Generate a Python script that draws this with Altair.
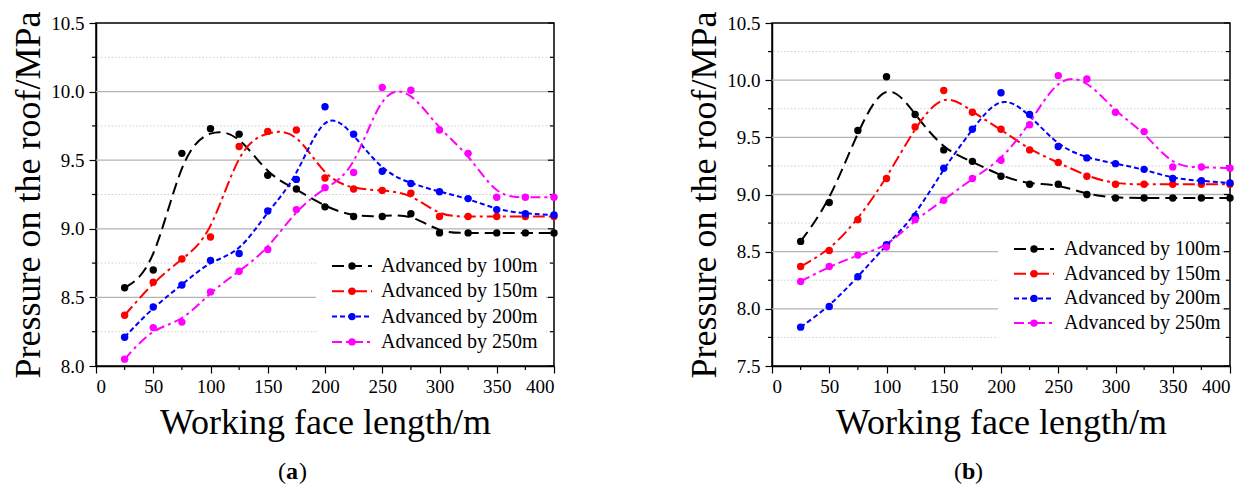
import altair as alt
import pandas as pd

FONT = "Liberation Serif"
W, H = 458, 343

# ---------------- data ----------------
face_length = [25, 50, 75, 100, 125, 150, 175, 200, 225, 250, 275, 300, 325, 350, 375, 400]
series_names = ["Advanced by 100m", "Advanced by 150m", "Advanced by 200m", "Advanced by 250m"]
series_colors = ["#000000", "#ff0000", "#0000ff", "#ff00ff"]
series_dashes = [[12, 6], [12, 4, 3, 4], [5, 3], [10, 4, 3, 4]]

a_100 = [8.57, 8.70, 9.55, 9.73, 9.69, 9.39, 9.29, 9.16, 9.09, 9.09, 9.11, 8.97, 8.97, 8.97, 8.97, 8.97]
a_150 = [8.37, 8.61, 8.78, 8.94, 9.60, 9.71, 9.72, 9.37, 9.29, 9.28, 9.26, 9.09, 9.09, 9.09, 9.09, 9.09]
a_200 = [8.21, 8.43, 8.59, 8.77, 8.82, 9.13, 9.36, 9.89, 9.69, 9.42, 9.33, 9.27, 9.22, 9.14, 9.11, 9.10]
a_250 = [8.05, 8.28, 8.32, 8.54, 8.69, 8.85, 9.14, 9.30, 9.41, 10.03, 10.01, 9.72, 9.55, 9.23, 9.23, 9.23]

b_100 = [8.59, 8.93, 9.56, 10.03, 9.70, 9.39, 9.29, 9.16, 9.09, 9.09, 9.00, 8.97, 8.97, 8.97, 8.97, 8.97]
b_150 = [8.37, 8.51, 8.78, 9.14, 9.59, 9.91, 9.72, 9.57, 9.39, 9.28, 9.16, 9.09, 9.09, 9.09, 9.09, 9.09]
b_200 = [7.84, 8.02, 8.28, 8.56, 8.81, 9.23, 9.57, 9.89, 9.70, 9.42, 9.32, 9.27, 9.22, 9.14, 9.12, 9.10]
b_250 = [8.24, 8.37, 8.47, 8.54, 8.78, 8.95, 9.14, 9.30, 9.61, 10.04, 10.01, 9.72, 9.55, 9.24, 9.24, 9.23]

x_ticks = [0, 50, 100, 150, 200, 250, 300, 350, 400]
x_minor = [25, 75, 125, 175, 225, 275, 325, 375]

a_y_ticks = [8.0, 8.5, 9.0, 9.5, 10.0, 10.5]
a_y_minor = [8.25, 8.75, 9.25, 9.75, 10.25]
a_grid_major = [8.5, 9.0, 9.5, 10.0]

b_y_ticks = [7.5, 8.0, 8.5, 9.0, 9.5, 10.0, 10.5]
b_y_minor = [7.75, 8.25, 8.75, 9.25, 9.75, 10.25]
b_grid_major = [8.0, 8.5, 9.0, 9.5, 10.0]


def long_df(vals):
    rows = []
    for name, ys in zip(series_names, vals):
        for xv, yv in zip(face_length, ys):
            rows.append({"x": xv, "value": yv, "series": name})
    return pd.DataFrame(rows)


color_scale = alt.Scale(domain=series_names, range=series_colors)
dash_scale = alt.Scale(domain=series_names, range=series_dashes)


def make_panel(vals, ydom, yticks, yminor, gmajor, leg_y0, leg_step, leg_top, leg_sym, leg_txt, letter):
    df = long_df(vals)
    xs = alt.Scale(domain=[0, 400], nice=False, zero=False)
    ys = alt.Scale(domain=ydom, nice=False, zero=False)
    xaxis = alt.Axis(values=x_ticks, format="d", title="Working face length/m", grid=False,
                     tickSize=7, labelPadding=4, titlePadding=9,
                     labelFont=FONT, labelFontSize=19, titleFont=FONT, titleFontSize=36)
    yaxis = alt.Axis(values=yticks, format=".1f", title="Pressure on the roof/MPa", grid=False,
                     tickSize=7, labelPadding=5, titlePadding=3,
                     labelFont=FONT, labelFontSize=19, titleFont=FONT, titleFontSize=36)

    lines = alt.Chart(df).mark_line(interpolate="basis", strokeWidth=2).encode(
        x=alt.X("x:Q", scale=xs, axis=xaxis),
        y=alt.Y("value:Q", scale=ys, axis=yaxis),
        color=alt.Color("series:N", scale=color_scale, legend=None),
        strokeDash=alt.StrokeDash("series:N", scale=dash_scale, legend=None),
    )
    points = alt.Chart(df).mark_circle(size=55, opacity=1).encode(
        x=alt.X("x:Q", scale=xs, axis=xaxis),
        y=alt.Y("value:Q", scale=ys, axis=yaxis),
        color=alt.Color("series:N", scale=color_scale, legend=None),
    )

    grid_major = alt.Chart(pd.DataFrame({"value": gmajor})).mark_rule(
        color="#b3b3b3", strokeWidth=1.3).encode(y=alt.Y("value:Q", scale=ys, axis=yaxis))
    grid_minor = alt.Chart(pd.DataFrame({"value": yminor})).mark_rule(
        color="#cfcfcf", strokeWidth=1, strokeDash=[1.5, 2]).encode(y=alt.Y("value:Q", scale=ys, axis=yaxis))
    rt_major = alt.Chart(pd.DataFrame({"value": yticks})).mark_rule(color="black", strokeWidth=1.2).encode(
        y=alt.Y("value:Q", scale=ys, axis=yaxis), x=alt.value(W - 6), x2=alt.value(W))
    rt_minor = alt.Chart(pd.DataFrame({"value": yminor})).mark_rule(color="black", strokeWidth=1.2).encode(
        y=alt.Y("value:Q", scale=ys, axis=yaxis), x=alt.value(W - 4), x2=alt.value(W))
    lt_minor = alt.Chart(pd.DataFrame({"value": yminor})).mark_rule(color="black", strokeWidth=1.2).encode(
        y=alt.Y("value:Q", scale=ys, axis=yaxis), x=alt.value(-4), x2=alt.value(0))
    bt_minor = alt.Chart(pd.DataFrame({"x": x_minor})).mark_rule(color="black", strokeWidth=1.2).encode(
        x=alt.X("x:Q", scale=xs, axis=xaxis), y=alt.value(H), y2=alt.value(H + 4))

    layers = [grid_major, grid_minor, rt_major, rt_minor, lt_minor, bt_minor, lines, points]

    # legend drawn by hand
    ldf = pd.DataFrame({"series": series_names})
    layers.append(alt.Chart(pd.DataFrame({"k": [0]})).mark_rect(color="white").encode(
        x=alt.value(leg_sym - 36), x2=alt.value(W - 8), y=alt.value(leg_top), y2=alt.value(H - 1)))
    for i, name in enumerate(series_names):
        yy = leg_y0 + i * leg_step
        sub = alt.Chart(ldf).transform_filter(alt.datum.series == name)
        layers.append(sub.mark_rule(strokeWidth=2).encode(
            x=alt.value(leg_sym - 20), x2=alt.value(leg_sym + 20), y=alt.value(yy),
            color=alt.Color("series:N", scale=color_scale, legend=None),
            strokeDash=alt.StrokeDash("series:N", scale=dash_scale, legend=None)))
        layers.append(sub.mark_circle(size=55, opacity=1).encode(
            x=alt.value(leg_sym), y=alt.value(yy),
            color=alt.Color("series:N", scale=color_scale, legend=None)))
        layers.append(sub.mark_text(align="left", baseline="middle", font=FONT, fontSize=20,
                                    color="black").encode(x=alt.value(leg_txt), y=alt.value(yy),
                                                          text="series:N"))

    cap_parts = ["(", letter, ")"]
    cap_x = [182, 190, 203]
    cap_w = ["normal", "bold", "normal"]
    for part, cx, cw in zip(cap_parts, cap_x, cap_w):
        layers.append(alt.Chart(pd.DataFrame({"t": [part]})).mark_text(
            align="left", baseline="middle", font=FONT, fontSize=24, fontWeight=cw, color="black").encode(
            x=alt.value(cx), y=alt.value(449), text="t:N"))

    return alt.layer(*layers).properties(width=W, height=H)


panel_a = make_panel([a_100, a_150, a_200, a_250], [8.0, 10.5], a_y_ticks, a_y_minor, a_grid_major,
                     243, 25.3, 222, 256, 285, "a")
panel_b = make_panel([b_100, b_150, b_200, b_250], [7.5, 10.5], b_y_ticks, b_y_minor, b_grid_major,
                     226, 24.7, 210, 262, 292, "b")

chart = alt.hconcat(panel_a, panel_b, spacing=127).resolve_scale(
    x="independent", y="independent"
).properties(
    padding={"left": 2, "top": 2, "right": 5, "bottom": 0},
    background="white",
).configure_view(
    stroke="black", strokeWidth=1.5
).configure_axis(
    labelFont=FONT, titleFont=FONT, labelFontSize=19, titleFontSize=36,
    titleFontWeight="normal", labelColor="black", titleColor="black",
    domainColor="black", tickColor="black", domainWidth=1.5, tickWidth=1.2,
)

chart.save("out.html", embed_options={"renderer": "svg", "actions": False})
